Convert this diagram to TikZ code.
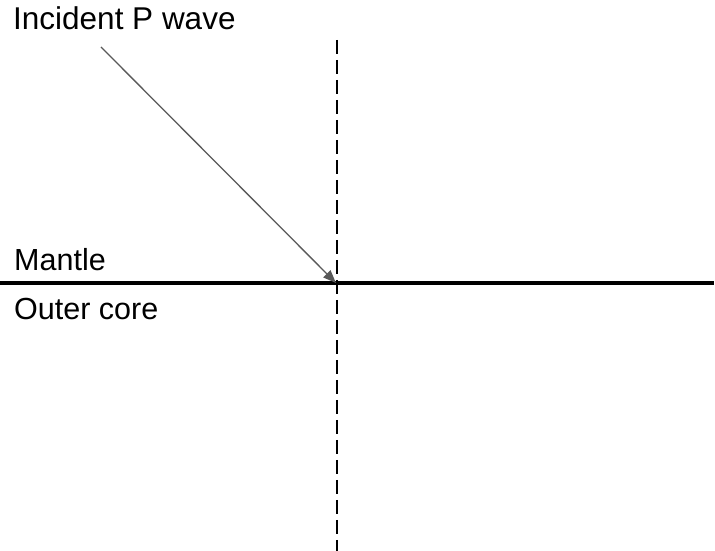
\documentclass[tikz,border=0pt]{standalone}
\usepackage{fontspec}
\setmainfont{Liberation Sans}
\usetikzlibrary{arrows.meta}
\begin{document}
\begin{tikzpicture}[x=1pt,y=1pt,
  lbl/.style={inner sep=0pt, anchor=base west, font=\fontsize{31.5}{36}\selectfont},
  lbls/.style={lbl, font=\fontsize{30.5}{34}\selectfont},
  boundary/.style={line width=3.2pt, black},
  normal/.style={line width=1.6pt, black, dash pattern=on 14pt off 6pt},
  ray/.style={line width=1.3pt, black!65, -{Triangle[length=13pt,width=10pt]}}]
\useasboundingbox (0,0) rectangle (715,551);
\coordinate (nt) at (337,511);
\coordinate (nb) at (337,0);
\coordinate (bl) at (0,268);
\coordinate (br) at (714,268);
\coordinate (rs) at (101,504);
\coordinate (re) at (336,268);
\draw[normal] (nt) -- (nb);
\draw[boundary] (bl) -- (br);
\draw[ray] (rs) -- (re);
\node[lbl] (inc) at (13,521) {Incident P wave};
\node[lbls] (man) at (14,280) {Mantle};
\node[lbls] (oc) at (14,231) {Outer core};
\end{tikzpicture}
\end{document}
